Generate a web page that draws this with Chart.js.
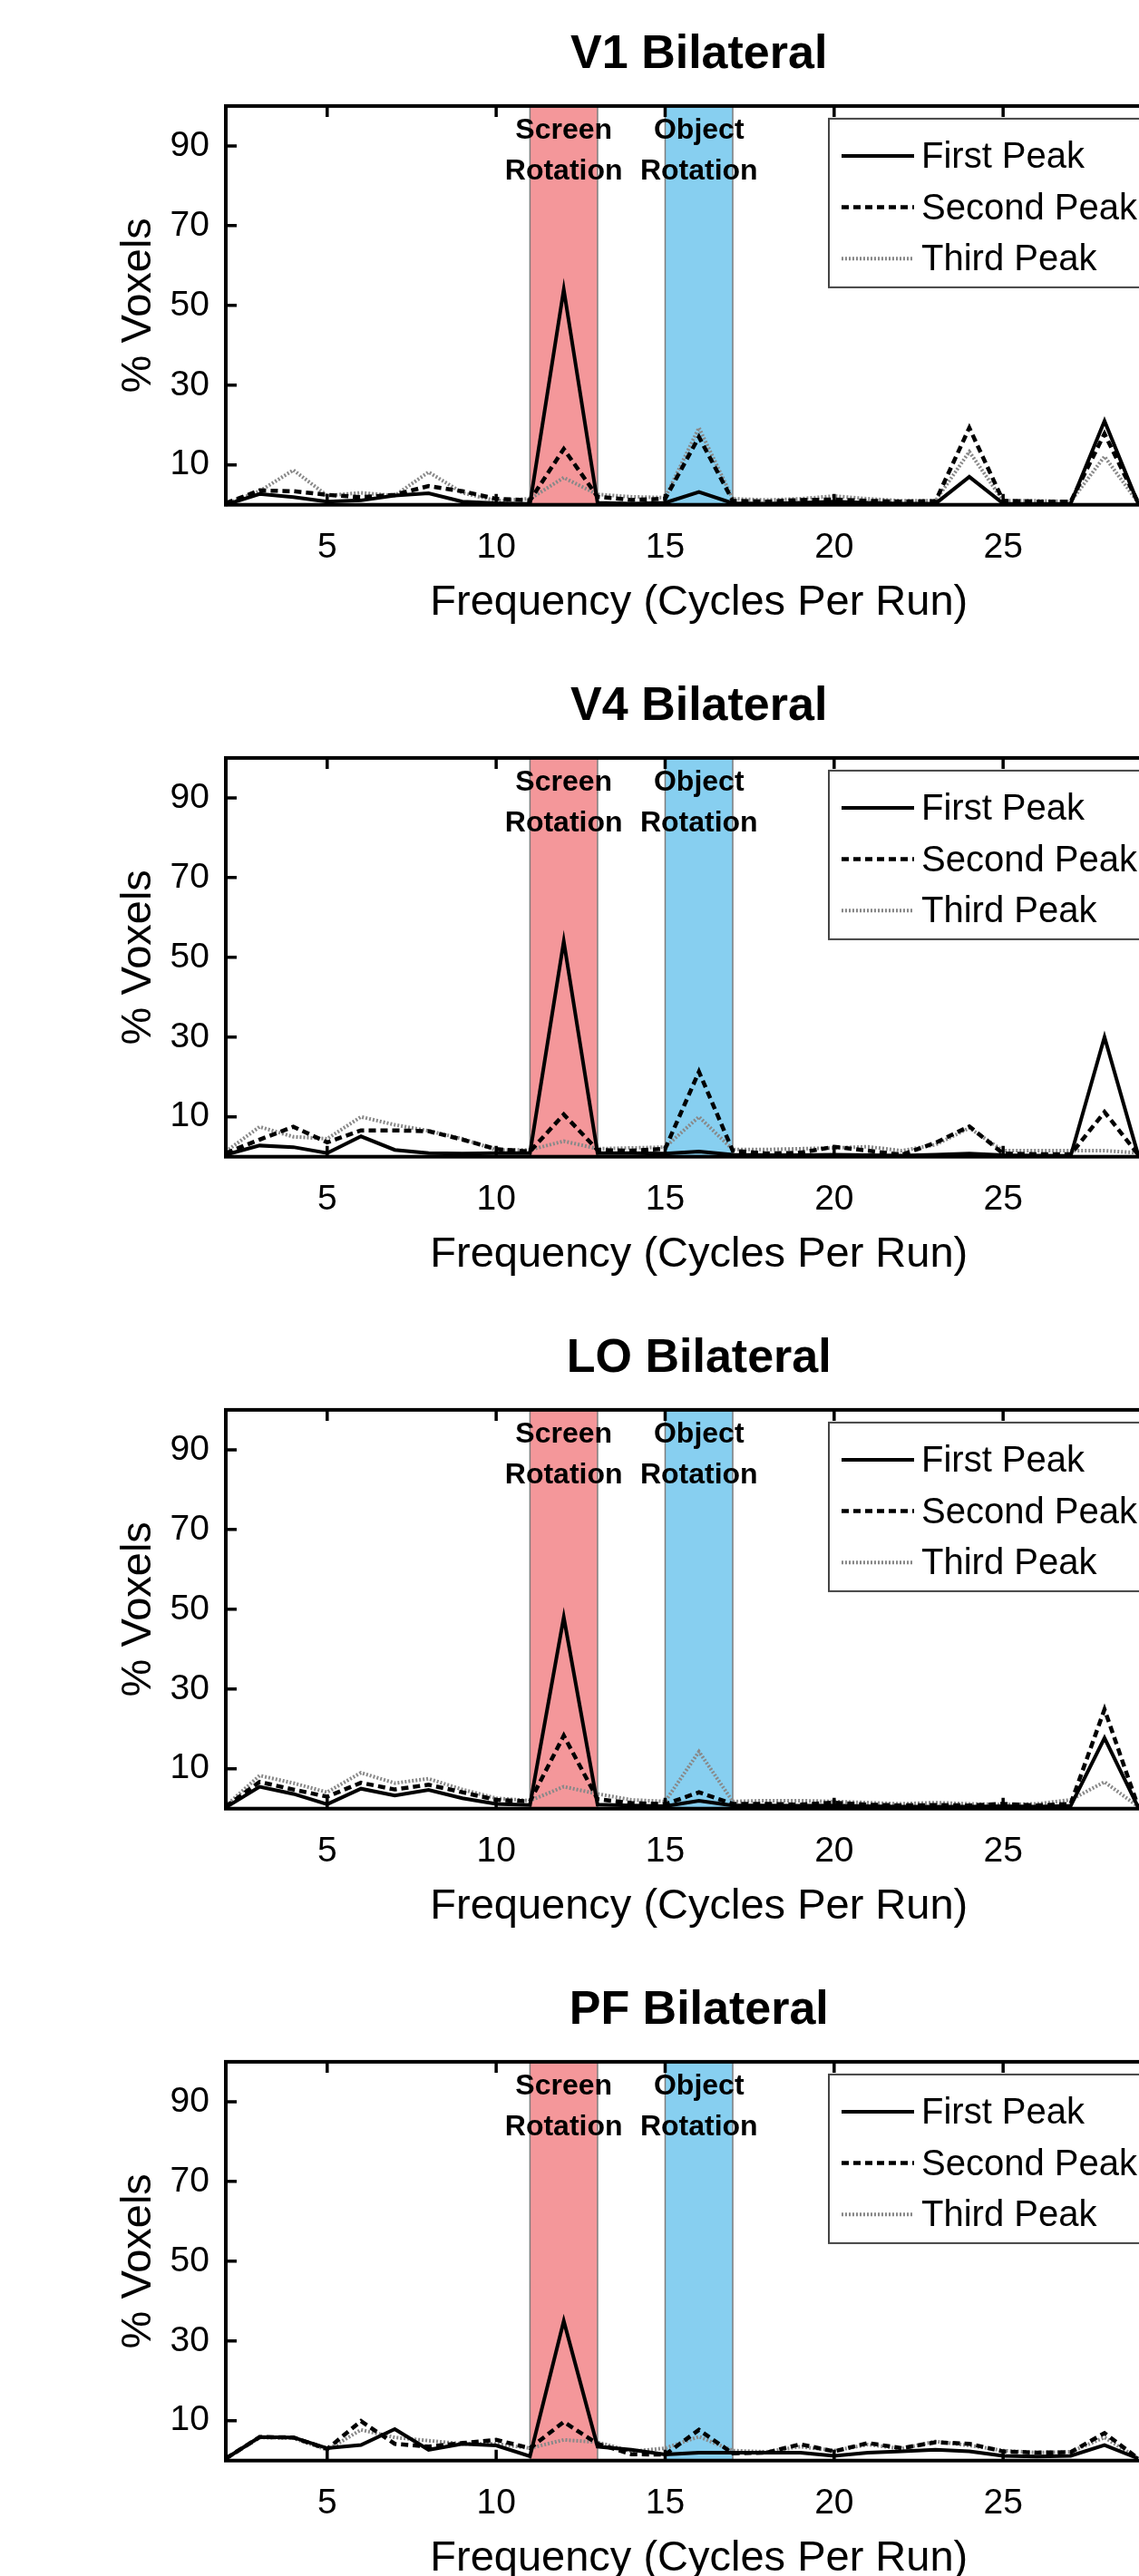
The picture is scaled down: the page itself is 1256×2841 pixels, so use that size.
<!DOCTYPE html>
<html>
<head>
<meta charset="utf-8">
<title>Peak frequency by region</title>
<script src="https://cdn.jsdelivr.net/npm/chart.js@4.4.1/dist/chart.umd.min.js"></script>
<style>
  html, body { margin: 0; padding: 0; background: #fff; }
  body { width: 1256px; height: 2841px; overflow: hidden; position: relative; }
  .panel { position: absolute; left: 0; }
</style>
</head>
<body>
<div class="panel" style="top:0px"><canvas id="v1" width="1541" height="719"></canvas></div>
<div class="panel" style="top:719px"><canvas id="v4" width="1541" height="719"></canvas></div>
<div class="panel" style="top:1438px"><canvas id="lo" width="1541" height="719"></canvas></div>
<div class="panel" style="top:2157px"><canvas id="pf" width="1541" height="719"></canvas></div>
<script>
// frequencies (cycles per run)
const freq = [2, 3, 4, 5, 6, 7, 8, 9, 10, 11, 12, 13, 14, 15, 16, 17, 18, 19, 20, 21, 22, 23, 24, 25, 26, 27, 28, 29];

// % voxels peaking at each frequency
const v1First  = [0, 2.7, 1.9, 0.8, 1.1, 2.3, 2.9, 0.8, 0.4, 0.2, 54, 0.5, 0.3, 0.5, 3.2, 0.4, 0.3, 0.5, 0.8, 0.5, 0.3, 0.3, 7, 0.3, 0.2, 0.3, 21, 0.2];
const v1Second = [0.4, 3.6, 3.4, 2.5, 1.9, 2.5, 4.7, 3.4, 1.5, 1.1, 14, 2, 1.2, 1.5, 17, 1, 0.8, 1.2, 1.3, 1, 0.8, 0.9, 19.3, 1, 0.8, 0.8, 17.8, 0.5];
const v1Third  = [0.2, 3.4, 8.7, 2.3, 3, 2.3, 8.2, 3, 1, 1.5, 6.8, 2.6, 2, 1.8, 19.3, 1.5, 1.2, 1.5, 2.2, 1.5, 1, 1, 13.3, 1, 1, 0.8, 12.1, 0.5];

const v4First  = [0.5, 2.8, 2.4, 0.9, 5.1, 1.7, 0.9, 0.8, 0.9, 0.9, 54, 0.9, 0.9, 0.8, 1.3, 0.5, 0.4, 0.4, 0.5, 0.4, 0.3, 0.5, 0.8, 0.4, 0.3, 0.2, 30, 0.3];
const v4Second = [0.9, 4.3, 7.5, 3.6, 6.6, 6.6, 6.4, 4.3, 1.9, 1.3, 10.6, 1.7, 1.5, 2, 21.3, 1.5, 0.8, 1, 2.5, 1.5, 0.5, 3.5, 7.6, 0.8, 0.6, 0.6, 11.2, 0.5];
const v4Third  = [1.3, 7.5, 5, 4.5, 10, 8, 6.5, 4.5, 1.7, 1.7, 3.9, 2, 2.2, 2.4, 10, 1.8, 1.8, 2, 2.2, 2.5, 1.5, 3, 7.2, 1.5, 1.5, 1.5, 1.5, 1];

const loFirst  = [0.3, 5.5, 3.7, 1.1, 5, 3.3, 4.7, 2.6, 1.2, 0.9, 48, 1, 0.8, 0.6, 2, 0.8, 0.8, 0.7, 0.8, 0.6, 0.5, 0.5, 0.5, 0.6, 0.5, 0.7, 17.7, 0.3];
const loSecond = [0.5, 6.7, 4.8, 3, 6.5, 4.8, 6, 4.1, 2.2, 1.8, 18.3, 2.4, 1.4, 1.1, 4.1, 1.2, 1.2, 1, 1.5, 1, 0.8, 0.9, 0.8, 1.2, 0.8, 1.2, 24.9, 0.4];
const loThird  = [0.7, 8.3, 6.4, 4.1, 9, 6.4, 7.5, 4.8, 2.6, 2, 5.5, 3.7, 2.2, 1.8, 14.3, 1.8, 2, 2, 1.8, 1.5, 1.2, 1.5, 1.2, 1, 1.2, 2.2, 6.7, 0.5];

const pfFirst  = [0.5, 5.9, 5.8, 3.1, 3.9, 7.9, 2.7, 4.2, 3.8, 1.1, 35, 3.5, 2.7, 1.5, 2, 2, 2, 2, 1.2, 2, 2.3, 2.7, 2.3, 1.2, 1, 1.2, 3.9, 0.5];
const pfSecond = [0.5, 5.9, 5.8, 2.9, 9.9, 4.2, 3.5, 4.4, 5.2, 3.1, 9.7, 4.2, 1.6, 1.5, 7.7, 1.8, 2, 4.1, 2.3, 4.4, 3.1, 4.6, 4.2, 2.3, 2, 2.1, 6.9, 0.5];
const pfThird  = [0.5, 5.8, 5.6, 2.7, 7.7, 5.8, 5, 4.2, 4.2, 3.1, 5.2, 4.6, 2.3, 3.1, 6, 2.5, 2.2, 3.5, 2.5, 4, 3, 4.8, 3.8, 2.5, 2, 2.2, 5.8, 0.5];

const xTicks = [5, 10, 15, 20, 25, 30];
const yTicks = [10, 30, 50, 70, 90];

// stimulation frequencies of the two rotation conditions
const screenBand = [11, 13];
const objectBand = [15, 17];
const bandCaptions = [['Screen', 'Rotation'], ['Object', 'Rotation']];

const FONT = "'Liberation Sans', Arial, Helvetica, sans-serif";
Chart.defaults.font.family = FONT;
Chart.defaults.color = '#000';

const bands = [
  { range: screenBand, color: '#f4979a', caption: bandCaptions[0] },
  { range: objectBand, color: '#87cff0', caption: bandCaptions[1] }
];

const matlabAxes = {
  id: 'matlabAxes',
  beforeDatasetsDraw(chart) {
    const { ctx, chartArea: a, scales: { x } } = chart;
    ctx.save();
    bands.forEach(b => {
      const x0 = x.getPixelForValue(b.range[0]);
      const x1 = x.getPixelForValue(b.range[1]);
      ctx.fillStyle = b.color;
      ctx.fillRect(x0, a.top, x1 - x0, a.bottom - a.top);
      ctx.strokeStyle = '#7d7d7d';
      ctx.lineWidth = 1.5;
      ctx.beginPath();
      ctx.moveTo(x0, a.top); ctx.lineTo(x0, a.bottom);
      ctx.moveTo(x1, a.top); ctx.lineTo(x1, a.bottom);
      ctx.stroke();
    });
    ctx.restore();
  },
  afterDatasetsDraw(chart) {
    const { ctx, chartArea: a, scales: { x, y } } = chart;
    ctx.save();

    // band captions
    ctx.fillStyle = '#000';
    ctx.font = 'bold 32px ' + FONT;
    ctx.textAlign = 'center';
    ctx.textBaseline = 'middle';
    bands.forEach(b => {
      const cx = x.getPixelForValue((b.range[0] + b.range[1]) / 2);
      ctx.fillText(b.caption[0], cx, a.top + 27);
      ctx.fillText(b.caption[1], cx, a.top + 72);
    });

    // box and inward ticks
    ctx.strokeStyle = '#000';
    ctx.lineWidth = 4;
    ctx.strokeRect(a.left, a.top, a.right - a.left, a.bottom - a.top);
    ctx.lineWidth = 3.5;
    ctx.beginPath();
    xTicks.forEach(v => {
      const px = x.getPixelForValue(v);
      ctx.moveTo(px, a.top); ctx.lineTo(px, a.top + 12);
      ctx.moveTo(px, a.bottom); ctx.lineTo(px, a.bottom - 12);
    });
    yTicks.forEach(v => {
      const py = y.getPixelForValue(v);
      ctx.moveTo(a.left, py); ctx.lineTo(a.left + 12, py);
      ctx.moveTo(a.right, py); ctx.lineTo(a.right - 12, py);
    });
    ctx.stroke();

    // legend box
    const lx = a.left + 665, ly = a.top + 14;
    ctx.fillStyle = '#fff';
    ctx.fillRect(lx, ly, 380, 186);
    ctx.strokeStyle = '#444';
    ctx.lineWidth = 2;
    ctx.strokeRect(lx, ly, 380, 186);
    ctx.font = '40px ' + FONT;
    ctx.textAlign = 'left';
    chart.data.datasets.forEach((ds, i) => {
      const ry = ly + 41 + i * 56.7;
      ctx.strokeStyle = ds.borderColor;
      ctx.lineWidth = ds.borderWidth;
      ctx.setLineDash(ds.borderDash || []);
      ctx.beginPath();
      ctx.moveTo(lx + 14, ry); ctx.lineTo(lx + 94, ry);
      ctx.stroke();
      ctx.setLineDash([]);
      ctx.fillStyle = '#000';
      ctx.fillText(ds.label, lx + 102, ry + 2);
    });
    ctx.restore();
  }
};

function series(values) {
  return freq.map((f, i) => ({ x: f, y: values[i] }));
}

function makePanel(id, title, first, second, third) {
  new Chart(document.getElementById(id), {
    type: 'line',
    data: {
      datasets: [
        { label: 'First Peak', data: series(first), borderColor: '#000', borderWidth: 4, borderDash: [] },
        { label: 'Second Peak', data: series(second), borderColor: '#000', borderWidth: 4.5, borderDash: [8, 5] },
        { label: 'Third Peak', data: series(third), borderColor: '#888888', borderWidth: 4, borderDash: [2, 2] }
      ]
    },
    options: {
      responsive: false,
      animation: false,
      clip: false,
      elements: { point: { radius: 0 }, line: { tension: 0 } },
      layout: { padding: { left: 0, right: 248.5, top: 0, bottom: 0 } },
      plugins: {
        legend: { display: false },
        tooltip: { enabled: false },
        title: {
          display: true,
          fullSize: false,
          text: title,
          color: '#000',
          font: { size: 52, weight: 'bold' },
          padding: { top: 29, bottom: 25.5 }
        }
      },
      scales: {
        x: {
          type: 'linear',
          min: 2,
          max: 30,
          grid: { display: false },
          border: { display: false },
          ticks: { font: { size: 39 }, padding: 16, color: '#000' },
          afterBuildTicks: s => { s.ticks = xTicks.map(v => ({ value: v })); },
          afterFit: s => { s.height = 162.3; },
          title: {
            display: true,
            text: 'Frequency (Cycles Per Run)',
            color: '#000',
            font: { size: 47 },
            padding: { top: 0, bottom: 26 }
          }
        },
        y: {
          min: 0,
          max: 100,
          grid: { display: false },
          border: { display: false },
          ticks: { font: { size: 39 }, padding: 10, color: '#000' },
          afterBuildTicks: s => { s.ticks = yTicks.map(v => ({ value: v })); },
          afterFit: s => { s.width = 249; },
          title: {
            display: true,
            text: '% Voxels',
            color: '#000',
            font: { size: 47 },
            padding: { top: 125, bottom: 0 }
          }
        }
      }
    },
    plugins: [matlabAxes]
  });
}

makePanel('v1', 'V1 Bilateral', v1First, v1Second, v1Third);
makePanel('v4', 'V4 Bilateral', v4First, v4Second, v4Third);
makePanel('lo', 'LO Bilateral', loFirst, loSecond, loThird);
makePanel('pf', 'PF Bilateral', pfFirst, pfSecond, pfThird);
</script>
</body>
</html>
